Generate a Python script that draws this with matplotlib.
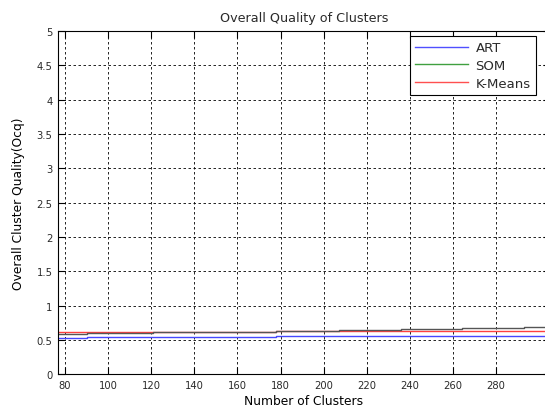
import matplotlib.pyplot as plt
from matplotlib.lines import Line2D

plt.rcParams['font.family'] = ['DejaVu Sans']
plt.rcParams['text.color'] = '#2a2a2a'
plt.rcParams['xtick.labelcolor'] = '#2a2a2a'
plt.rcParams['ytick.labelcolor'] = '#2a2a2a'

# step change points (number of clusters)
clusters = [76.75, 90, 121, 150, 178, 207, 236, 264, 293, 305]

art = [0.532, 0.546, 0.546, 0.546, 0.565, 0.565, 0.565, 0.565, 0.565, 0.565]
som = [0.586, 0.600, 0.615, 0.622, 0.630, 0.648, 0.660, 0.675, 0.690, 0.690]
kmeans = [0.615, 0.615, 0.615, 0.615, 0.628, 0.628, 0.628, 0.628, 0.628, 0.628]

xticks = list(range(80, 281, 20))
yticks = [0, 0.5, 1, 1.5, 2, 2.5, 3, 3.5, 4, 4.5, 5]
ytick_labels = ['0', '0.5', '1', '1.5', '2', '2.5', '3', '3.5', '4', '4.5', '5']

fig = plt.figure(figsize=(5.45, 4.10), dpi=100)
ax = fig.add_axes([58 / 545, 34.6 / 410, 491.9 / 545, 343.4 / 410])

ax.step(clusters, art, where='post', color='#4646ff', lw=1.0)
ax.step(clusters, kmeans, where='post', color='#ff4040', lw=1.0)
ax.step(clusters, som, where='post', color='#555555', lw=1.0)

ax.set_xlim(76.75, 305)
ax.set_ylim(0, 5)
ax.set_xticks(xticks)
ax.set_yticks(yticks)
ax.set_yticklabels(ytick_labels)
ax.tick_params(direction='in', top=True, right=True, labelsize=7.2, length=5, width=0.8, pad=4)
ax.grid(True, color='black', linestyle=(0, (3, 3)), linewidth=0.6)
for s in ax.spines.values():
    s.set_linewidth(0.8)

ax.set_title("Overall Quality of Clusters", fontsize=9.2, pad=7)
ax.set_xlabel("Number of Clusters", fontsize=8.8, labelpad=3)
ax.set_ylabel("Overall Cluster Quality(Ocq)", fontsize=8.8, labelpad=8)

handles = [Line2D([], [], color='#5050ff', lw=1.0),
           Line2D([], [], color='#40a040', lw=1.0),
           Line2D([], [], color='#ff5050', lw=1.0)]
leg = ax.legend(handles, ['ART', 'SOM', 'K-Means'], loc='upper right',
                bbox_to_anchor=(536 / 545, 1 - 37 / 410), bbox_transform=fig.transFigure,
                borderaxespad=0, fancybox=False, edgecolor='black', framealpha=1,
                fontsize=9.5, handlelength=4.0, handletextpad=0.6,
                labelspacing=0.35, borderpad=0.4)
leg.get_frame().set_linewidth(0.8)

fig.savefig("out.png", dpi=100)
